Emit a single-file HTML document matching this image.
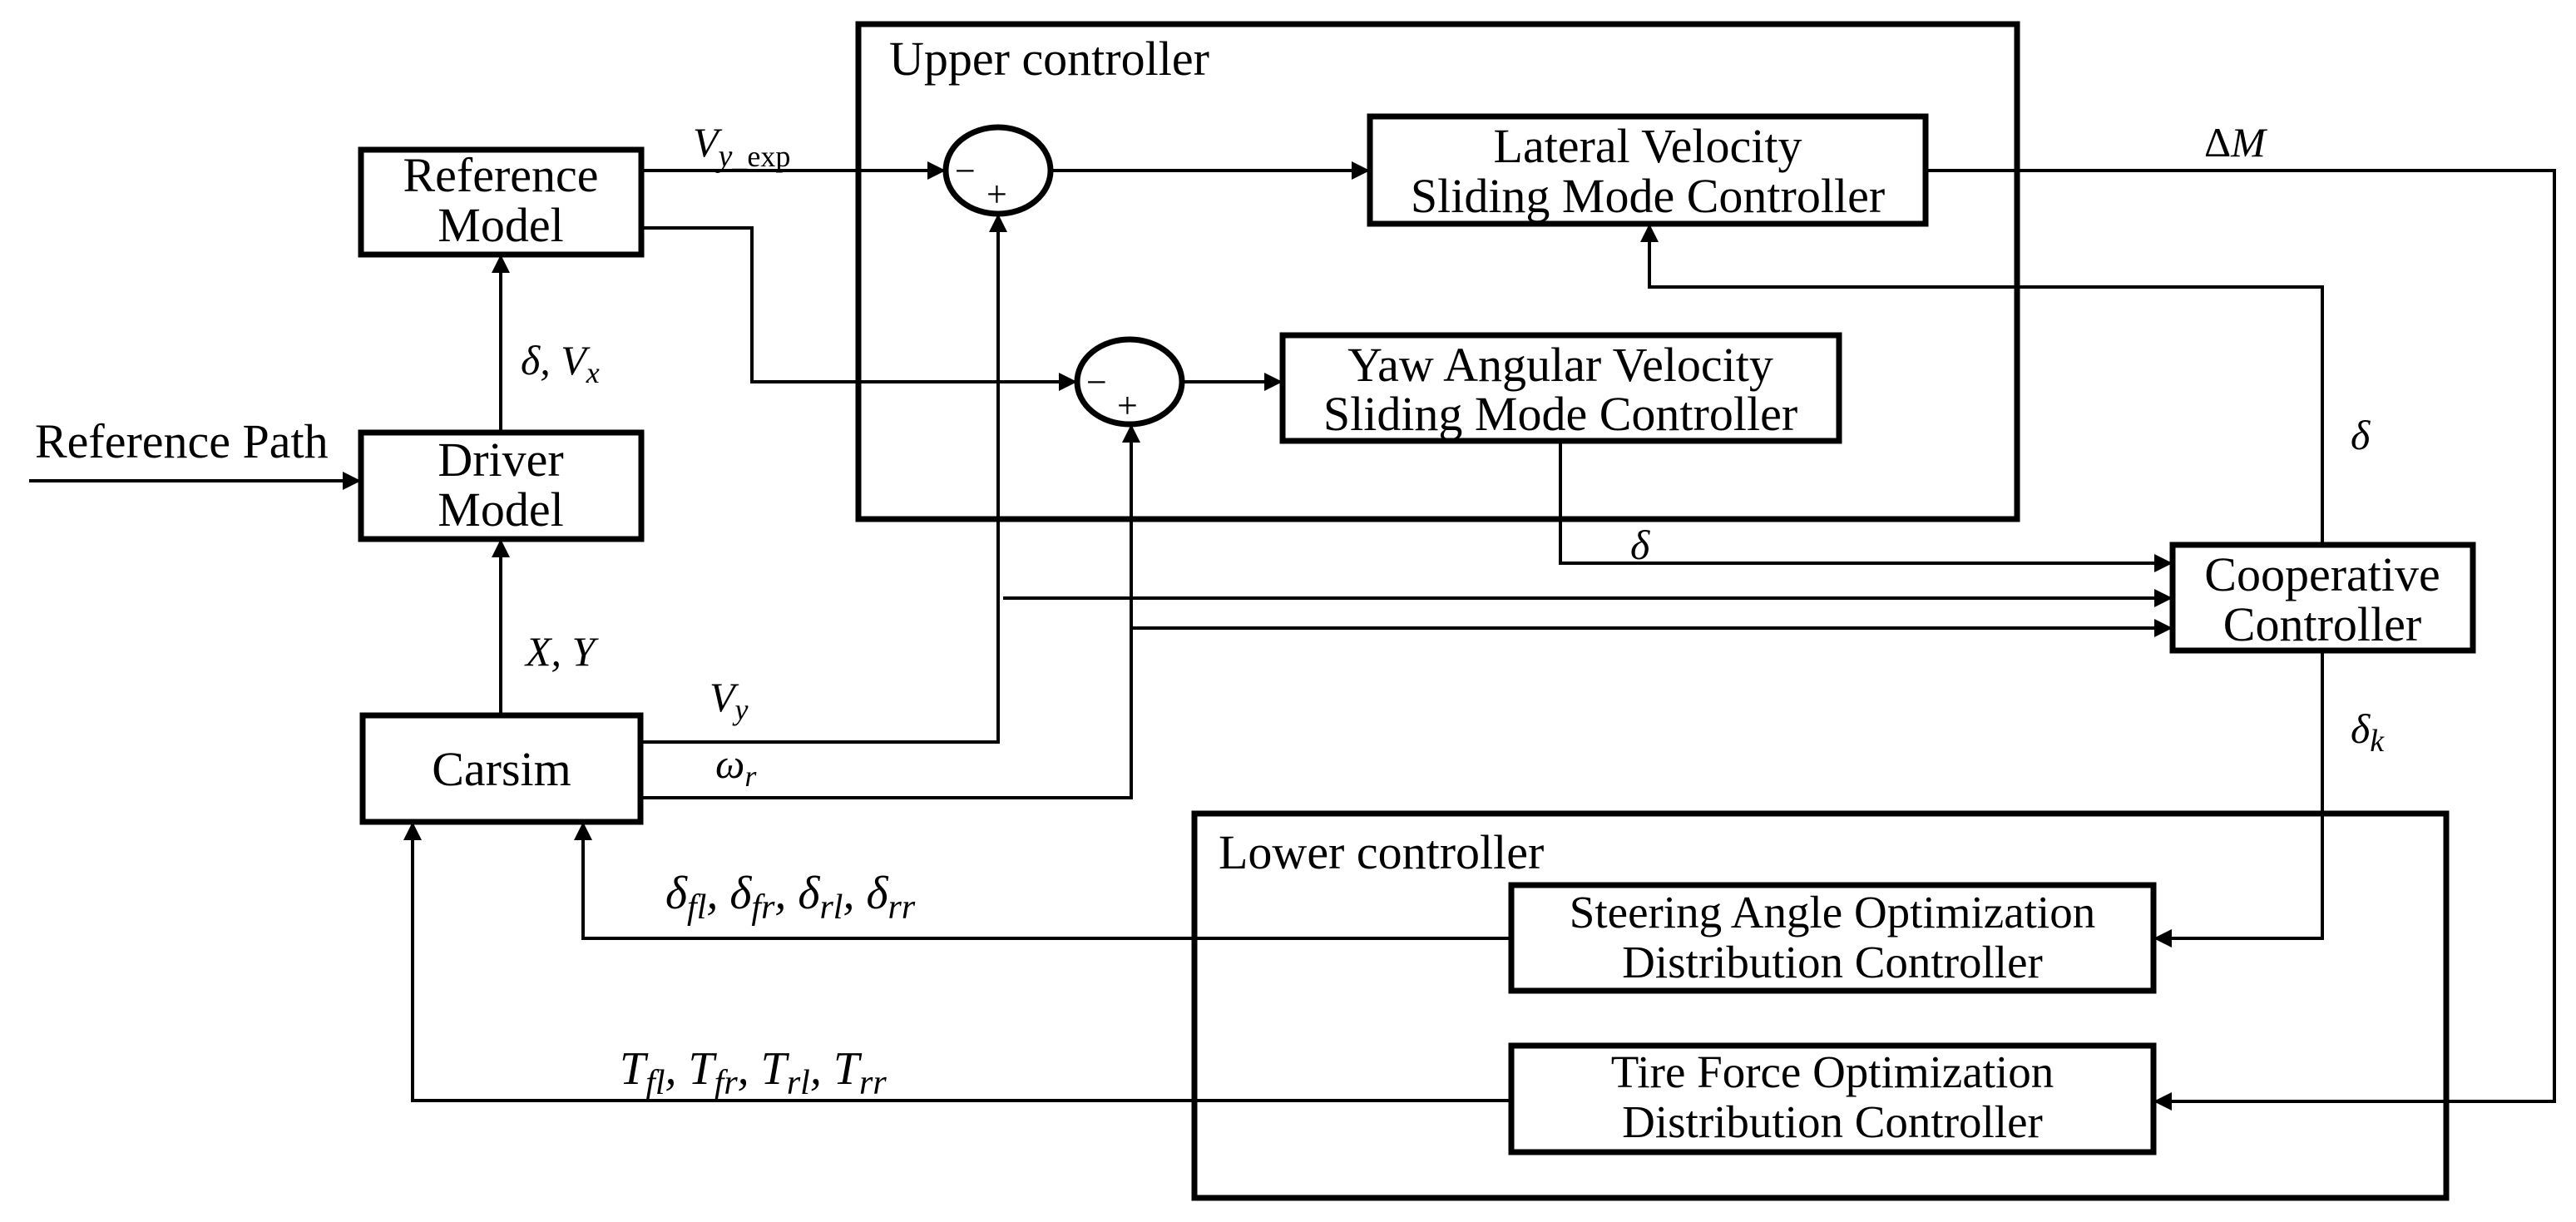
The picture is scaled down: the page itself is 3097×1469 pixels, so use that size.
<!DOCTYPE html>
<html><head><meta charset="utf-8"><style>
html,body{margin:0;padding:0;background:#fff;}
svg{display:block;}
text{font-family:"Liberation Serif",serif;fill:#000;}
.b{font-size:58px;text-anchor:middle;}
.m{font-size:50px;font-style:italic;}
</style></head><body>
<svg width="3097" height="1469" viewBox="0 0 3097 1469" xmlns="http://www.w3.org/2000/svg">
<defs>
<marker id="a" viewBox="0 0 10 10" refX="10" refY="5" markerWidth="22" markerHeight="22" markerUnits="userSpaceOnUse" orient="auto"><path d="M0,0 L10,5 L0,10 z" fill="#000"/></marker>
</defs>
<g fill="none" stroke="#000" stroke-width="7">
<rect x="1032" y="29" width="1393" height="595"/>
<rect x="1436" y="978" width="1505" height="462"/>
<rect x="434" y="180" width="337" height="126"/>
<rect x="434" y="520" width="337" height="128"/>
<rect x="436" y="860" width="334" height="128"/>
<rect x="1647" y="140" width="668" height="129"/>
<rect x="1542" y="403" width="669" height="127"/>
<rect x="2612" y="655" width="361" height="127"/>
<rect x="1817" y="1064" width="772" height="127"/>
<rect x="1817" y="1257" width="772" height="128"/>
<ellipse cx="1200" cy="205" rx="63" ry="52"/>
<ellipse cx="1358" cy="459" rx="63" ry="51"/>
</g>
<g fill="none" stroke="#000" stroke-width="4" marker-end="url(#a)">
<path d="M771,205 H1137"/>
<path d="M771,274 H904 V459 H1295"/>
<path d="M35,578 H434"/>
<path d="M602,520 V306"/>
<path d="M602,860 V648"/>
<path d="M770,892 H1200 V257"/>
<path d="M770,959 H1360 V510"/>
<path d="M1263,205 H1647"/>
<path d="M1421,459 H1542"/>
<path d="M2315,205 H3071 V1324 H2589"/>
<path d="M2792,655 V345 H1983 V269"/>
<path d="M1876,530 V677 H2612"/>
<path d="M1206,719 H2612"/>
<path d="M1360,755 H2612"/>
<path d="M2792,782 V1128 H2589"/>
<path d="M1817,1128 H701 V988"/>
<path d="M1817,1323 H496 V988"/>
</g>
<g>
<text x="1148" y="220" style="font-size:44px">−</text>
<text x="1186" y="248" style="font-size:44px">+</text>
<text x="1306" y="474" style="font-size:44px">−</text>
<text x="1343" y="502" style="font-size:44px">+</text>
</g>
<text x="1069" y="90" style="font-size:58px">Upper controller</text>
<text x="1465" y="1044" style="font-size:58px">Lower controller</text>
<text class="b" x="602" y="230">Reference</text>
<text class="b" x="602" y="290">Model</text>
<text class="b" x="602" y="572">Driver</text>
<text class="b" x="602" y="632">Model</text>
<text class="b" x="603" y="944">Carsim</text>
<text class="b" x="1981" y="195">Lateral Velocity</text>
<text class="b" x="1981" y="255">Sliding Mode Controller</text>
<text class="b" x="1876" y="458">Yaw Angular Velocity</text>
<text class="b" x="1876" y="517">Sliding Mode Controller</text>
<text class="b" x="2792" y="710">Cooperative</text>
<text class="b" x="2792" y="770">Controller</text>
<text class="b" x="2203" y="1115" style="font-size:55px">Steering Angle Optimization</text>
<text class="b" x="2203" y="1175" style="font-size:55px">Distribution Controller</text>
<text class="b" x="2203" y="1307" style="font-size:55px">Tire Force Optimization</text>
<text class="b" x="2203" y="1367" style="font-size:55px">Distribution Controller</text>
<text x="42" y="550" style="font-size:58px">Reference Path</text>
<text class="m" x="833" y="188">V<tspan font-size="38" dy="12">y</tspan><tspan font-style="normal" font-size="36">_exp</tspan></text>
<text class="m" x="626" y="450">δ, V<tspan font-size="36" dy="10">x</tspan></text>
<text class="m" x="632" y="800">X, Y</text>
<text class="m" x="853" y="855">V<tspan font-size="36" dy="10">y</tspan></text>
<text class="m" x="860" y="935">ω<tspan font-size="36" dy="10">r</tspan></text>
<text class="m" x="2650" y="188"><tspan font-style="normal">Δ</tspan>M</text>
<text class="m" x="1960" y="672">δ</text>
<text class="m" x="2826" y="540">δ</text>
<text class="m" x="2826" y="893">δ<tspan font-size="38" dy="10">k</tspan></text>
<text class="m" x="800" y="1092" style="font-size:56px">δ<tspan font-size="42" dy="12">fl</tspan><tspan dy="-12">, δ</tspan><tspan font-size="42" dy="12">fr</tspan><tspan dy="-12">, δ</tspan><tspan font-size="42" dy="12">rl</tspan><tspan dy="-12">, δ</tspan><tspan font-size="42" dy="12">rr</tspan></text>
<text class="m" x="745" y="1303" style="font-size:56px">T<tspan font-size="42" dy="12">fl</tspan><tspan dy="-12">, T</tspan><tspan font-size="42" dy="12">fr</tspan><tspan dy="-12">, T</tspan><tspan font-size="42" dy="12">rl</tspan><tspan dy="-12">, T</tspan><tspan font-size="42" dy="12">rr</tspan></text>
</svg>
</body></html>
